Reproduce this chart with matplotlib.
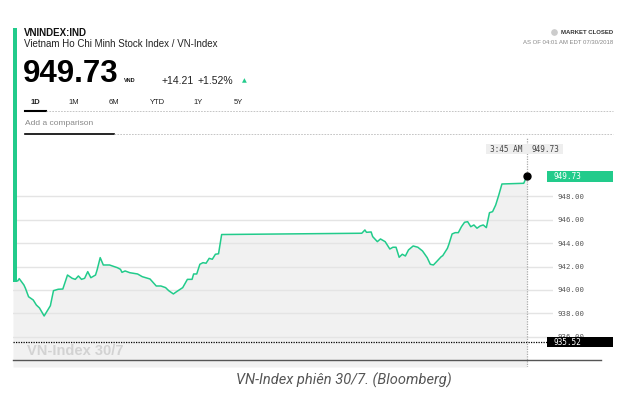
import matplotlib.pyplot as plt
import matplotlib.transforms as mtransforms
from matplotlib.patches import Rectangle
from matplotlib.lines import Line2D

W, H = 643, 394

# minutes after 09:15 (Ho Chi Minh time) and the index level
minutes = [0, 3, 4, 7, 8, 10, 13, 15, 17, 20, 24, 26, 29, 32, 35, 38, 40, 42, 44, 46,
           48, 50, 53, 54, 56, 58, 62, 67, 69, 70, 72, 75, 80, 83, 88, 92, 95, 98, 100, 103,
           105, 109, 112, 115, 116, 118, 120, 122, 124, 126, 128, 130, 132, 134,
           224, 226, 227, 230, 231, 234, 236, 239, 242, 244, 246, 248, 250, 252, 254, 257,
           260, 263, 266, 268, 270, 272, 275, 276, 279, 280, 282, 284, 286, 288, 290, 292,
           294, 296, 298, 300, 302, 304, 306, 308, 310, 312, 314, 328, 330]
values = [940.85, 940.76, 940.96, 940.42, 940.13, 939.41, 939.13, 938.70, 938.45, 937.76,
          938.64, 939.93, 940.05, 940.07, 941.27, 940.99, 940.90, 941.19, 940.90, 940.99,
          941.56, 941.04, 941.27, 941.70, 942.76, 942.13, 942.13, 941.90, 941.76, 941.50,
          941.62, 941.47, 941.36, 941.13, 940.93, 940.33, 940.33, 940.19, 939.93, 939.65,
          939.84, 940.19, 940.90, 940.90, 941.36, 941.36, 942.19, 942.33, 942.28, 942.70,
          942.62, 943.05, 943.09, 944.74,
          944.85, 945.13, 944.93, 944.96, 944.56, 944.13, 944.36, 944.13, 943.50, 943.65,
          943.65, 942.79, 943.05, 942.90, 943.42, 943.76, 943.65, 943.33, 942.76, 942.19,
          942.13, 942.41, 942.84, 942.93, 943.56, 943.93, 944.79, 944.90, 944.90, 945.41,
          945.79, 945.84, 945.41, 945.56, 945.28, 945.47, 945.56, 945.33, 946.61, 946.70,
          947.27, 948.13, 949.07, 949.13, 949.73]
prev_close = 935.52
yticks = [936, 938, 940, 942, 944, 946, 948]
tabs = ["1D", "1M", "6M", "YTD", "1Y", "5Y"]
tab_x = [35, 74, 114, 157, 198, 238]

GREEN = "#22cb8b"
SANS = "Liberation Sans"
MONO = "DejaVu Sans Mono"


def fx(x):
    return x / W


def fy(y):
    return 1 - y / H


fig = plt.figure(figsize=(W / 100, H / 100), dpi=100)

# price chart
ax = fig.add_axes([fx(13), fy(367), 540 / W, (367 - 138) / H])
ax.set_xlim(0, 346.8)
ax.set_ylim(933.39, 953.01)
for s in ax.spines.values():
    s.set_visible(False)
ax.set_xticks([])
ax.yaxis.tick_right()
ax.set_yticks(yticks)
ax.set_yticklabels(["%.2f" % t for t in yticks], fontfamily=MONO, fontsize=5.3, color="#555555")
ax.tick_params(axis="y", length=0, pad=3)
ax.grid(axis="y", color="#e4e4e4", linewidth=1, zorder=2)
ax.set_axisbelow(False)

ax.fill_between(minutes, values, 933.39, color="#f1f1f1", linewidth=0, zorder=1)
ax.plot(minutes, values, color=GREEN, linewidth=1.1, zorder=4)
ax.plot(minutes[-1], values[-1], "o", color="black", markersize=5, zorder=5)
ax.axhline(prev_close, xmax=534 / 540, color="black", linestyle=(0, (1, 1)), linewidth=0.9, zorder=3)
ax.axvline(minutes[-1], color="#aaaaaa", linestyle=(0, (1, 1)), linewidth=0.9, zorder=3)
ax.text(9, 934.75, "VN-Index 30/7", fontfamily=SANS, fontweight="bold", fontsize=10.5,
        color="#d2d2d2", va="center", zorder=3)

# value boxes on the right axis
bt = mtransforms.blended_transform_factory(ax.transAxes, ax.transData)
for val, fc in [(values[-1], GREEN), (prev_close, "black")]:
    ax.add_patch(Rectangle((534 / 540, val - 0.45), 66 / 540, 0.9, transform=bt,
                           facecolor=fc, edgecolor="none", clip_on=False, zorder=6))
    ax.text(540 / 540, val, "%.2f" % val, transform=bt, fontfamily=MONO, fontsize=5.6,
            color="white", va="center", ha="left", clip_on=False, zorder=7)

# tooltip above the last point
fig.add_artist(Rectangle((fx(486), fy(154)), 77 / W, 10 / H, transform=fig.transFigure,
                         facecolor="#eeeeee", edgecolor="none"))
fig.text(fx(506), fy(149), "3:45 AM", fontfamily=MONO, fontsize=5.6, color="#444444",
         ha="center", va="center")
fig.text(fx(545.5), fy(149), "%.2f" % values[-1], fontfamily=MONO, fontsize=5.6,
         color="#444444", ha="center", va="center")

# bottom rule
fig.add_artist(Line2D([fx(13), fx(601)], [fy(360), fy(360)], color="#555555", linewidth=1))

# left accent bar
fig.add_artist(Rectangle((fx(12.5), fy(282)), 4 / W, (282 - 28) / H, transform=fig.transFigure,
                         facecolor=GREEN, edgecolor="none"))

# header
fig.text(fx(24), fy(33), "VNINDEX:IND", fontfamily=SANS, fontweight="bold", fontsize=7,
         color="#111111", va="center")
fig.text(fx(24), fy(44), "Vietnam Ho Chi Minh Stock Index / VN-Index", fontfamily=SANS,
         fontsize=7, color="#222222", va="center")
fig.text(fx(22.5), fy(73.5), "%.2f" % values[-1], fontfamily=SANS, fontweight="bold",
         fontsize=22.5, color="black", va="center")
fig.text(fx(124), fy(81), "VND", fontfamily=SANS, fontweight="bold", fontsize=4,
         color="#111111", va="center")
change = values[-1] - prev_close
fig.text(fx(162), fy(80.5), "+%.2f" % change, fontfamily=SANS, fontsize=7.5,
         color="#222222", va="center")
fig.text(fx(198), fy(80.5), "+%.2f%%" % (change / prev_close * 100), fontfamily=SANS,
         fontsize=7.5, color="#222222", va="center")
fig.text(fx(244), fy(81), "\u25b2", fontfamily="DejaVu Sans", fontsize=4.5, color=GREEN,
         ha="center", va="center")

for t, x in zip(tabs, tab_x):
    fig.text(fx(x), fy(103), t, fontfamily=SANS, fontweight="bold" if t == "1D" else "normal",
             fontsize=5.5, color="#222222", ha="center", va="center")
fig.add_artist(Line2D([fx(25), fx(46)], [fy(111), fy(111)], color="black", linewidth=1.5))
fig.add_artist(Line2D([fx(46), fx(613)], [fy(111), fy(111)], color="#bbbbbb", linewidth=0.6,
                      linestyle=(0, (2, 1.5))))
fig.text(fx(25), fy(123.5), "Add a comparison", fontfamily=SANS, fontsize=6, color="#888888",
         va="center")
fig.add_artist(Line2D([fx(25), fx(114)], [fy(134), fy(134)], color="black", linewidth=1.2))
fig.add_artist(Line2D([fx(114), fx(613)], [fy(134), fy(134)], color="#bbbbbb", linewidth=0.6,
                      linestyle=(0, (2, 1.5))))

# market status
fig.add_artist(Line2D([fx(554)], [fy(32)], marker="o", markersize=3.8, color="#cccccc",
                      linestyle="none"))
fig.text(fx(613), fy(32), "MARKET CLOSED", fontfamily=SANS, fontweight="bold", fontsize=4.3,
         color="#333333", ha="right", va="center")
fig.text(fx(613), fy(42), "AS OF 04:01 AM EDT 07/30/2018", fontfamily=SANS, fontsize=4.3,
         color="#888888", ha="right", va="center")

# caption
fig.text(fx(344), fy(380), "VN-Index phiên 30/7. (Bloomberg)", fontfamily="Roboto",
         style="italic", fontsize=10.5, color="#555555", ha="center", va="center")

fig.savefig("out.png", dpi=100)
